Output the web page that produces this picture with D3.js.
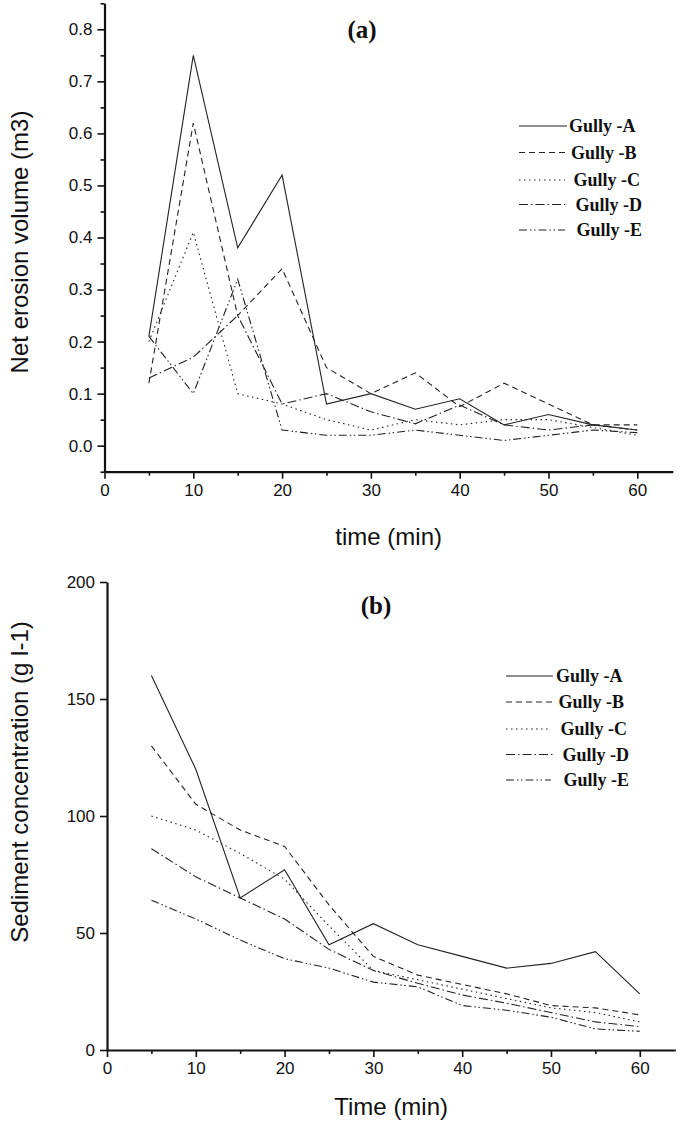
<!DOCTYPE html>
<html>
<head>
<meta charset="utf-8">
<script src="https://cdn.jsdelivr.net/npm/d3@7/dist/d3.min.js"></script>
<style>
  html, body { margin: 0; padding: 0; background: #fff; }
  svg { display: block; }
  .tick text { font-family: "Liberation Sans", Arial, sans-serif; font-size: 17px; fill: #111; }
  .axis-title { font-family: "Liberation Sans", Arial, sans-serif; font-size: 24px; fill: #111; }
  .panel-title { font-family: "Liberation Serif", "Times New Roman", serif; font-weight: bold; font-size: 25px; fill: #111; }
  .legend-text { font-family: "Liberation Serif", "Times New Roman", serif; font-weight: bold; font-size: 18px; fill: #111; }
</style>
</head>
<body>
<svg id="chart" width="685" height="1121"></svg>
<script>
// ---------- data ----------
const times = [5, 10, 15, 20, 25, 30, 35, 40, 45, 50, 55, 60];
const gullyNames = ["Gully -A", "Gully -B", "Gully -C", "Gully -D", "Gully -E"];

// (a) Net erosion volume (m3)
const erosionA = [0.21, 0.75, 0.38, 0.52, 0.08, 0.10, 0.07, 0.09, 0.04, 0.06, 0.04, 0.03];
const erosionB = [0.12, 0.62, 0.25, 0.34, 0.15, 0.10, 0.14, 0.075, 0.12, 0.08, 0.04, 0.04];
const erosionC = [0.20, 0.41, 0.10, 0.08, 0.05, 0.03, 0.05, 0.04, 0.05, 0.05, 0.035, 0.02];
const erosionD = [0.13, 0.17, 0.25, 0.08, 0.10, 0.065, 0.042, 0.078, 0.04, 0.03, 0.04, 0.03];
const erosionE = [0.21, 0.10, 0.32, 0.03, 0.02, 0.02, 0.03, 0.02, 0.01, 0.02, 0.03, 0.025];

// (b) Sediment concentration (g l-1)
const sedimentA = [160, 120, 65, 77, 45, 54, 45, 40, 35, 37, 42, 24];
const sedimentB = [130, 105, 94, 87, 62, 40, 32, 28, 24, 19, 18, 15];
const sedimentC = [100, 94, 84, 73, 53, 34, 30, 26, 22, 18, 16, 12];
const sedimentD = [86, 74, 65, 56, 43, 34, 28.5, 23.5, 20, 16, 12, 10];
const sedimentE = [64, 56, 47, 39, 35, 29, 27, 19, 17, 14, 9, 8];

const xMajorTicks = [0, 10, 20, 30, 40, 50, 60];
const xMinorTicks = [5, 15, 25, 35, 45, 55];
const yMajorTicksA = [0, 0.1, 0.2, 0.3, 0.4, 0.5, 0.6, 0.7, 0.8];
const yMinorTicksA = [-0.05, 0.05, 0.15, 0.25, 0.35, 0.45, 0.55, 0.65, 0.75, 0.85];
const yMajorTicksB = [0, 50, 100, 150, 200];

// ---------- styles ----------
const dashStyles = [null, "6,4", "1.5,3.5", "9,3,1.5,3", "8,3,1.5,2.5,1.5,3"];
const lineColor = "#222";

const svg = d3.select("#chart");

function drawPanel(cfg) {
  const g = svg.append("g");
  const x = d3.scaleLinear().domain([0, 64]).range(cfg.xRange);
  const y = d3.scaleLinear().domain(cfg.yDomain).range(cfg.yRange);
  const y0 = cfg.yRange[0];
  const x0 = cfg.xRange[0];

  // x axis minor + major
  g.append("g").attr("transform", `translate(0,${y0})`)
    .call(d3.axisBottom(x).tickValues(xMinorTicks).tickSize(4).tickFormat(""))
    .call(s => s.select(".domain").remove());
  const xa = g.append("g").attr("transform", `translate(0,${y0})`)
    .call(d3.axisBottom(x).tickValues(xMajorTicks).tickSize(7).tickSizeOuter(0).tickPadding(5).tickFormat(d3.format("d")));
  xa.select(".domain").attr("stroke-width", 2.2).attr("stroke", "#111");

  // y axis
  if (cfg.yMinor) {
    g.append("g").attr("transform", `translate(${x0},0)`)
      .call(d3.axisLeft(y).tickValues(cfg.yMinor).tickSize(4).tickFormat(""))
      .call(s => s.select(".domain").remove());
  }
  const ya = g.append("g").attr("transform", `translate(${x0},0)`)
    .call(d3.axisLeft(y).tickValues(cfg.yMajor).tickSize(7).tickSizeOuter(0).tickPadding(5).tickFormat(cfg.yFormat));
  ya.select(".domain").attr("stroke-width", 2.2).attr("stroke", "#111");
  g.selectAll(".tick line").attr("stroke", "#111").attr("stroke-width", 1.6);

  // lines
  const line = d3.line().x((d, i) => x(times[i])).y(d => y(d));
  cfg.series.forEach((vals, k) => {
    const p = g.append("path").datum(vals)
      .attr("d", line)
      .attr("fill", "none")
      .attr("stroke", lineColor)
      .attr("stroke-width", 1.1);
    if (dashStyles[k]) p.attr("stroke-dasharray", dashStyles[k]);
  });

  // titles
  g.append("text").attr("class", "panel-title")
    .attr("x", cfg.titlePos[0]).attr("y", cfg.titlePos[1])
    .attr("text-anchor", "middle").text(cfg.title);
  g.append("text").attr("class", "axis-title")
    .attr("x", (cfg.xRange[0] + x(64)) / 2).attr("y", cfg.xTitleY)
    .attr("text-anchor", "middle").text(cfg.xTitle);
  g.append("text").attr("class", "axis-title")
    .attr("transform", `translate(${cfg.yTitleX},${cfg.yTitleY}) rotate(-90)`)
    .attr("text-anchor", "middle").text(cfg.yTitle);

  // legend
  const lg = g.append("g");
  gullyNames.forEach((name, k) => {
    const ly = cfg.legendY[k];
    const l = lg.append("line")
      .attr("x1", cfg.legendX[0]).attr("x2", cfg.legendX[1] - (k === 2 || k === 4 ? 2 : 0))
      .attr("y1", ly).attr("y2", ly)
      .attr("stroke", lineColor).attr("stroke-width", 1.1);
    if (dashStyles[k]) l.attr("stroke-dasharray", dashStyles[k]);
    lg.append("text").attr("class", "legend-text")
      .attr("x", cfg.legendTextX[k]).attr("y", ly + 6).text(name);
  });
}

drawPanel({
  xRange: [104.5, 672.8],
  yDomain: [-0.05, 0.85],
  yRange: [471.7, 3.3],
  yMajor: yMajorTicksA,
  yMinor: yMinorTicksA,
  yFormat: d3.format(".1f"),
  series: [erosionA, erosionB, erosionC, erosionD, erosionE],
  title: "(a)",
  titlePos: [362, 38],
  xTitle: "time (min)",
  xTitleY: 545,
  yTitle: "Net erosion volume (m3)",
  yTitleX: 28,
  yTitleY: 242,
  legendX: [519, 567],
  legendY: [126, 152.5, 180, 204.5, 230],
  legendTextX: [569, 571, 573.5, 575.5, 576.5]
});

drawPanel({
  xRange: [107, 675.3],
  yDomain: [0, 200],
  yRange: [1050, 582],
  yMajor: yMajorTicksB,
  yMinor: null,
  yFormat: d3.format("d"),
  series: [sedimentA, sedimentB, sedimentC, sedimentD, sedimentE],
  title: "(b)",
  titlePos: [376, 614],
  xTitle: "Time (min)",
  xTitleY: 1115,
  yTitle: "Sediment concentration (g l-1)",
  yTitleX: 28,
  yTitleY: 782,
  legendX: [506, 553],
  legendY: [676, 702, 729, 754.5, 780],
  legendTextX: [556, 558.5, 560.5, 562.5, 563.5]
});
</script>
</body>
</html>
